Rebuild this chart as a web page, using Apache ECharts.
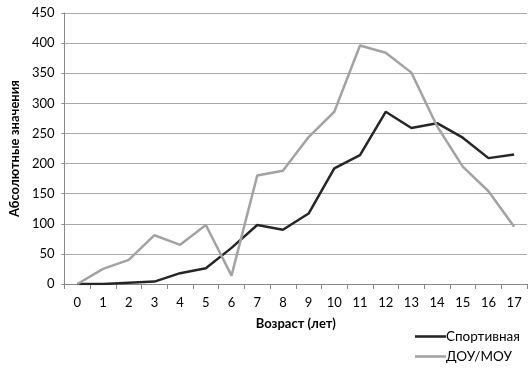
<!DOCTYPE html>
<html>
<head>
<meta charset="utf-8">
<script src="https://cdn.jsdelivr.net/npm/echarts@6/dist/echarts.min.js"></script>
<style>html,body{margin:0;padding:0;background:#fff;}#c{width:532px;height:369px;}</style>
</head>
<body>
<div id="c"></div>
<script>
const categories = ['0','1','2','3','4','5','6','7','8','9','10','11','12','13','14','15','16','17'];
const sport = [0, 0, 2, 4, 18, 26, 60, 98, 90, 117, 192, 214, 286, 259, 267, 243, 209, 215];
const dou = [0, 25, 40, 81, 65, 98, 14, 180, 188, 244, 286, 396, 384, 351, 262, 195, 154, 95];
const yTicks = [0, 450, 50];
const font = 'Lato, "Open Sans", "Liberation Sans", sans-serif';
const legendBase = {
  left: 415, itemGap: 0, itemWidth: 31, itemHeight: 10, padding: 0,
  icon: 'path://M0,4 L30,4 L30,6.5 L0,6.5 Z',
  textStyle: { fontFamily: font, fontSize: 13.5, color: '#000', padding: [0,0,0,-5], lineHeight: 15 }
};
const chart = echarts.init(document.getElementById('c'));
chart.setOption({
  animation: false,
  backgroundColor: '#fff',
  textStyle: { fontFamily: font },
  grid: { left: 61, right: 5, top: 13, bottom: 85 },
  legend: [
    Object.assign({}, legendBase, { top: 329, data: ['Спортивная'] }),
    Object.assign({}, legendBase, { top: 349, data: ['ДОУ/МОУ'] })
  ],
  xAxis: {
    type: 'category', data: categories, boundaryGap: true,
    name: 'Возраст (лет)', nameLocation: 'middle', nameGap: 33,
    nameTextStyle: { fontFamily: font, fontWeight: 'bold', fontSize: 13, color: '#000' },
    axisLine: { lineStyle: { color: '#888', width: 1 } },
    axisTick: { show: true, alignWithLabel: false, length: 5, lineStyle: { color: '#888' } },
    axisLabel: { fontFamily: font, fontSize: 13, color: '#000', margin: 12 }
  },
  yAxis: {
    type: 'value', min: yTicks[0], max: yTicks[1], interval: yTicks[2],
    name: 'Абсолютные значения', nameLocation: 'middle', nameGap: 40, nameRotate: 90,
    nameTextStyle: { fontFamily: font, fontWeight: 'bold', fontSize: 13, color: '#000' },
    axisLine: { show: true, lineStyle: { color: '#888', width: 1 } },
    axisTick: { show: true, length: 3, lineStyle: { color: '#888' } },
    axisLabel: { fontFamily: font, fontSize: 13, color: '#000', margin: 10 },
    splitLine: { lineStyle: { color: '#aaa', width: 1 } }
  },
  series: [
    { name: 'Спортивная', type: 'line', data: sport, symbol: 'none',
      lineStyle: { color: '#262626', width: 2.5 }, itemStyle: { color: '#262626' } },
    { name: 'ДОУ/МОУ', type: 'line', data: dou, symbol: 'none',
      lineStyle: { color: '#a3a3a3', width: 2.5 }, itemStyle: { color: '#a3a3a3' } }
  ]
});
</script>
</body>
</html>
